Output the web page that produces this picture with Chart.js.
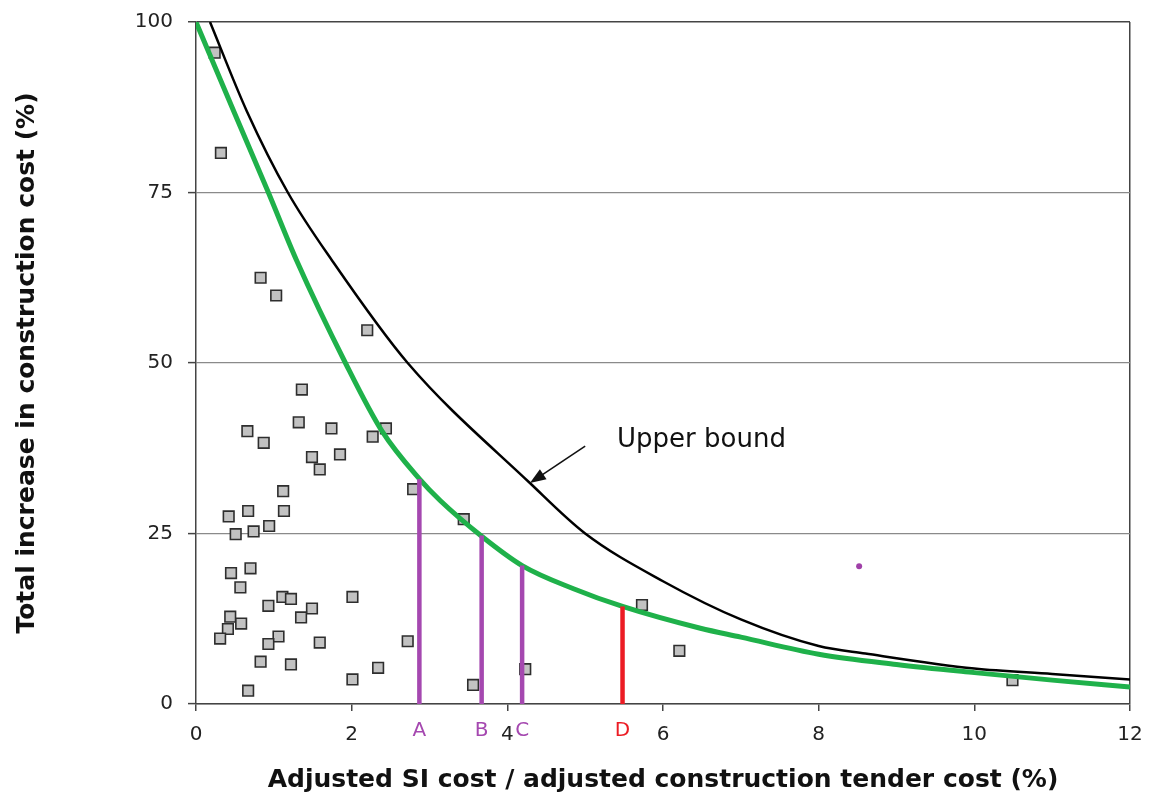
<!DOCTYPE html>
<html>
<head>
<meta charset="utf-8">
<script src="https://cdn.jsdelivr.net/npm/chart.js@4.4.0/dist/chart.umd.min.js"></script>
<style>
    html, body {
        margin: 0;
        padding: 0;
        background: #fff;
    }
</style>
</head>
<body>
<canvas id="chart" width="1150" height="798"></canvas>
<script>
// projects (scatter squares)
const projectX = [0.24, 0.32, 0.83, 1.03, 2.20, 1.36, 1.32, 0.66, 0.87, 1.74, 2.27, 2.44, 1.49, 1.85, 1.59, 1.12, 2.79,
    1.13, 0.67, 0.42, 0.94, 0.74, 0.51, 3.44, 0.70, 0.45, 0.57, 1.11, 1.22, 0.93, 1.49, 1.35, 0.44, 0.58, 0.41, 0.31,
    2.01, 1.06, 0.93, 1.59, 2.72, 0.83, 1.22, 2.01, 2.34, 0.67, 3.56, 4.23, 5.73, 6.21, 10.49]
const projectY = [95.5, 80.8, 62.5, 59.9, 54.8, 46.1, 41.3, 40.0, 38.3, 40.4, 39.2, 40.4, 36.2, 36.6, 34.4, 31.2, 31.5,
    28.3, 28.3, 27.5, 26.1, 25.3, 24.9, 27.1, 19.9, 19.2, 17.1, 15.7, 15.4, 14.4, 14.0, 12.7, 12.8, 11.8, 11.0, 9.6,
    15.7, 9.9, 8.8, 9.0, 9.2, 6.2, 5.8, 3.6, 5.3, 1.95, 2.8, 5.1, 14.5, 7.8, 3.5]

// green fitted curve
const fitX = [0, 0.5, 0.93, 1.29, 1.92, 2.39, 2.87, 3.14, 3.67, 4.19, 4.85, 5.48, 6.48, 7, 8, 9, 10, 11, 12]
const fitY = [100, 86.5, 75, 65.1, 50, 40, 33, 29.8, 24.6, 20.3, 16.9, 14.3, 11.1, 9.8, 7.3, 5.8, 4.6, 3.5, 2.5]

// black upper bound curve
const upperX = [0.18, 0.65, 1.18, 1.75, 2.72, 4.29, 5.0, 6, 7, 8, 8.6, 10, 11, 12]
const upperY = [100, 87, 75, 65, 50, 32.4, 25, 18, 12.4, 8.5, 7.4, 5.2, 4.4, 3.6]

// vertical markers A-D
const markerNames = ['A', 'B', 'C', 'D']
const markerX = [2.87, 3.67, 4.19, 5.48]
const markerY = [33, 24.7, 20.3, 14.3]
const markerColors = ['#a548b0', '#a548b0', '#a548b0', '#ec1c24']

// stray purple dot
const dotX = [8.52]
const dotY = [20.2]

const toPoints = (xs, ys) => xs.map((v, i) => ({x: v, y: ys[i]}))

Chart.defaults.font.family = '"DejaVu Sans", sans-serif'

const notes = {
    id: 'notes',
    afterDatasetsDraw(chart) {
        const {ctx, scales: {x, y}} = chart
        ctx.save()
        ctx.font = '20px "DejaVu Sans"'
        ctx.textAlign = 'center'
        ctx.textBaseline = 'middle'
        markerNames.forEach((name, i) => {
            ctx.fillStyle = markerColors[i]
            ctx.fillText(name, x.getPixelForValue(markerX[i]), y.bottom + 27)
        })

        // "Upper bound" label + arrow
        ctx.font = '26px "DejaVu Sans"'
        ctx.textAlign = 'left'
        ctx.fillStyle = '#111'
        ctx.fillText('Upper bound', x.getPixelForValue(5.41), y.getPixelForValue(38.7))

        const x0 = x.getPixelForValue(5.0), y0 = y.getPixelForValue(37.8)
        const x1 = x.getPixelForValue(4.29), y1 = y.getPixelForValue(32.4)
        const ang = Math.atan2(y1 - y0, x1 - x0)
        ctx.strokeStyle = '#111'
        ctx.lineWidth = 1.6
        ctx.beginPath()
        ctx.moveTo(x0, y0)
        ctx.lineTo(x1 - 12 * Math.cos(ang), y1 - 12 * Math.sin(ang))
        ctx.stroke()
        ctx.beginPath()
        ctx.moveTo(x1, y1)
        ctx.lineTo(x1 - 16 * Math.cos(ang) + 6 * Math.sin(ang), y1 - 16 * Math.sin(ang) - 6 * Math.cos(ang))
        ctx.lineTo(x1 - 16 * Math.cos(ang) - 6 * Math.sin(ang), y1 - 16 * Math.sin(ang) + 6 * Math.cos(ang))
        ctx.closePath()
        ctx.fillStyle = '#111'
        ctx.fill()
        ctx.restore()
    }
}

const markerSets = markerNames.map((name, i) => ({
    type: 'line',
    label: name,
    data: [{x: markerX[i], y: 0}, {x: markerX[i], y: markerY[i]}],
    borderColor: markerColors[i],
    borderWidth: 4.5,
    borderCapStyle: 'butt',
    pointRadius: 0,
    order: 0
}))

new Chart(document.getElementById('chart'), {
    type: 'scatter',
    data: {
        datasets: [
            ...markerSets,
            {
                type: 'line',
                label: 'Fit',
                data: toPoints(fitX, fitY),
                borderColor: '#1fb14a',
                borderWidth: 5,
                pointRadius: 0,
                cubicInterpolationMode: 'monotone',
                order: 0
            },
            {
                type: 'line',
                label: 'Upper bound',
                data: toPoints(upperX, upperY),
                borderColor: '#000',
                borderWidth: 2.5,
                pointRadius: 0,
                cubicInterpolationMode: 'monotone',
                order: 0
            },
            {
                label: 'Projects',
                data: toPoints(projectX, projectY),
                pointStyle: 'rect',
                pointRadius: 7.5,
                backgroundColor: '#c2c2c2',
                borderColor: '#2e2e2e',
                borderWidth: 1.6,
                order: 1
            },
            {
                label: 'dot',
                data: toPoints(dotX, dotY),
                pointRadius: 3,
                backgroundColor: '#a040a8',
                borderWidth: 0,
                order: 1
            }
        ]
    },
    options: {
        responsive: false,
        animation: false,
        layout: {padding: {top: 22, right: 20, left: 0, bottom: 0}},
        plugins: {
            legend: {display: false},
            tooltip: {enabled: false}
        },
        scales: {
            x: {
                type: 'linear',
                min: 0,
                max: 12,
                afterFit: (scale) => {
                    scale.height = 94
                    scale.paddingLeft = 0
                    scale.paddingRight = 0
                },
                ticks: {
                    stepSize: 2,
                    padding: 12,
                    color: '#222',
                    font: {size: 20}
                },
                grid: {
                    color: (c) => c.tick && c.tick.value === 12 ? '#444' : 'rgba(0,0,0,0)',
                    lineWidth: 1.5,
                    tickLength: 7,
                    tickColor: '#444',
                    tickWidth: 1.5
                },
                border: {color: '#444', width: 1.5},
                title: {
                    display: true,
                    text: 'Adjusted SI cost / adjusted construction tender cost (%)',
                    color: '#111',
                    font: {size: 25, weight: 'bold'},
                    padding: {top: 0, bottom: 3}
                }
            },
            y: {
                min: 0,
                max: 100,
                afterFit: (scale) => {
                    scale.width = 196
                    scale.paddingTop = 0
                    scale.paddingBottom = 0
                },
                ticks: {
                    stepSize: 25,
                    padding: 15,
                    color: '#222',
                    font: {size: 20}
                },
                grid: {
                    color: (c) => c.tick && c.tick.value === 100 ? '#444' : '#8a8a8a',
                    lineWidth: (c) => c.tick && c.tick.value === 100 ? 1.5 : 1.2,
                    tickLength: 8,
                    tickColor: '#444',
                    tickWidth: 1.5
                },
                border: {color: '#444', width: 1.5},
                title: {
                    display: true,
                    text: 'Total increase in construction cost (%)',
                    color: '#111',
                    font: {size: 25, weight: 'bold'},
                    padding: {top: 12, bottom: 0}
                }
            }
        }
    },
    plugins: [notes]
})
</script>
</body>
</html>
